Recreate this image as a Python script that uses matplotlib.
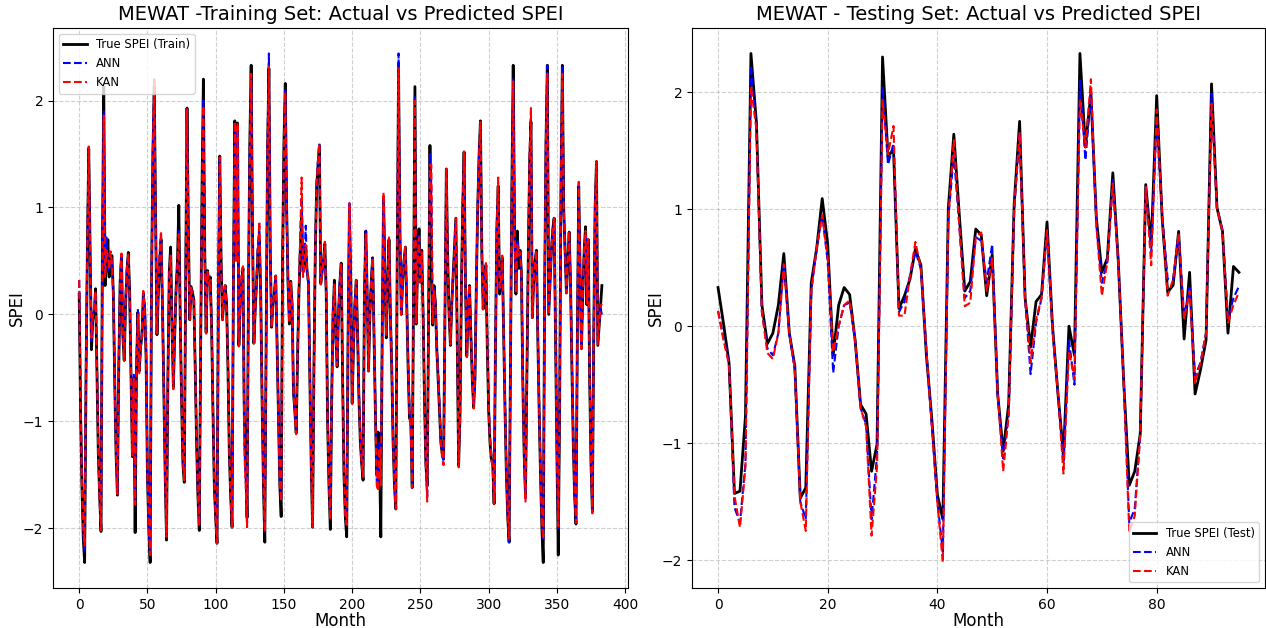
import matplotlib
matplotlib.use("Agg")
import matplotlib.pyplot as plt
import numpy as np

# ---- Training period (monthly SPEI, 384 months) ----
true_train = [
    0.19, -0.90, -1.60, -2.10, -2.32, -0.60, 0.60, 1.55, 0.60, -0.33, -0.05, 0.00, 0.24, -0.50, -1.30, -1.70,
    -2.03, 0.60, 2.13, 0.27, 0.45, 0.70, 0.35, 0.50, 0.55, 0.20, -0.60, -1.30, -1.69, -0.50, 0.30, 0.55,
    -0.20, -0.43, 0.10, 0.40, 0.58, 0.20, -0.60, -1.33, -0.60, -2.04, -0.50, 0.02, -0.53, -0.30, -0.20, 0.19,
    0.05, -0.40, -1.50, -2.00, -2.32, 0.30, 1.50, 2.13, 0.90, -0.19, 0.20, 0.50, 0.70, 0.10, -0.70, -1.50,
    -2.11, -0.60, 0.40, 0.63, -0.10, -0.68, -0.20, 0.24, 0.50, 1.02, 0.00, -0.80, -1.40, -1.57, 0.30, 1.93,
    0.80, -0.05, 0.26, 0.20, 0.14, -0.50, -1.20, -1.70, -2.02, -0.30, 1.20, 2.20, 0.60, -0.17, 0.41, 0.30,
    0.35, -0.10, -0.90, -1.60, -1.90, -2.14, 0.20, 1.48, 0.50, -0.05, 0.15, 0.27, 0.10, -0.50, -1.30, -1.70,
    -1.99, 0.30, 1.81, 0.53, 1.79, -0.29, 0.10, 0.30, 0.43, -0.97, -1.20, -1.90, 0.20, 1.60, 2.33, 0.80,
    -0.27, 0.05, 0.30, 0.60, 0.70, 0.20, -0.80, -1.60, -2.13, -0.20, 1.50, 2.30, 0.60, -0.12, 0.10, 0.19,
    0.36, -0.30, -1.00, -1.60, -1.89, 0.50, 1.60, 2.16, 1.00, 0.30, -0.09, 0.31, 0.10, -0.73, -0.90, -1.11,
    -0.40, 0.20, 0.60, 0.90, 0.40, 0.46, 0.60, 0.40, 0.30, -0.60, -1.40, -1.99, -0.50, 0.60, 1.20, 1.40,
    1.58, 0.29, 0.40, 0.50, 0.66, 0.20, -1.00, -1.60, -2.01, -0.80, 0.00, 0.32, -0.20, -0.49, 0.00, 0.30,
    0.48, -0.60, -1.50, -1.90, -2.08, -0.20, 1.00, 0.30, -0.83, -0.30, 0.10, 0.32, -0.20, -0.80, -1.20, -1.40,
    -1.55, 0.20, 0.78, 0.20, -0.53, 0.00, 0.30, 0.53, -0.20, -0.90, -1.50, -1.10, -1.30, -2.08, -0.20, 1.10,
    0.40, -0.22, 0.30, 0.70, 0.00, -0.50, -1.20, -1.60, -1.82, 0.50, 2.30, 0.80, 0.00, 0.30, 0.50, 0.63,
    0.10, -0.50, -0.97, -1.00, -1.62, 0.20, 2.13, -0.09, 0.50, 0.80, 0.30, 0.60, 0.00, -0.80, -1.40, -1.60,
    0.00, 1.58, 0.50, -0.10, 0.27, 0.10, -0.32, -0.60, -0.90, -1.20, -1.30, -1.35, 0.00, 1.36, 0.53, 0.00,
    -0.29, 0.10, 0.36, 0.60, 0.90, -0.30, -1.41, -0.96, 0.20, 1.00, 1.52, 0.30, -0.39, 0.00, 0.27, -0.20,
    -0.60, -0.87, -0.60, 0.30, 1.00, 1.50, 1.81, 0.60, 0.05, 0.30, 0.46, -0.30, -0.90, -1.20, -1.35, -1.40,
    -1.77, -0.30, 0.80, 1.20, 0.19, 0.30, 0.53, -0.20, -0.90, -1.50, -1.90, -2.13, -0.50, 1.20, 2.33, 0.80,
    0.19, 0.78, 0.43, 0.60, 0.40, -0.60, -1.30, -1.70, -0.60, 0.50, 1.40, 1.80, -0.03, 0.30, 0.50, 0.60,
    -0.20, -0.90, -1.50, -2.00, -2.32, 0.20, 1.60, 2.33, 0.00, 0.30, 0.60, 0.80, 0.90, -0.20, -1.30, -2.25,
    -0.90, 1.20, 2.33, 1.00, 0.60, 0.20, 0.50, 0.77, 0.30, -0.50, -1.20, -1.70, -1.96, -0.20, 1.20, 0.40,
    -0.32, 0.20, 0.60, 0.82, 0.09, 0.70, -0.60, -1.40, -1.84, -0.20, 1.00, 1.43, -0.29, -0.10, 0.10, 0.27,
]

ann_train = [
    0.32, -0.80, -1.55, -2.05, -2.20, -0.55, 0.65, 1.57, 0.55, -0.25, 0.00, 0.05, 0.20, -0.45, -1.25, -1.72,
    -2.00, 0.55, 1.90, 0.40, 0.72, 0.50, 0.40, 0.52, 0.50, 0.22, -0.55, -1.25, -1.65, -0.45, 0.35, 0.55,
    -0.15, -0.40, 0.15, 0.45, 0.55, 0.15, -0.55, -1.30, -0.55, -1.75, -0.45, 0.05, -0.50, -0.35, -0.15, 0.20,
    0.10, -0.35, -1.45, -2.00, -2.25, 0.35, 1.55, 2.20, 0.85, -0.15, 0.25, 0.55, 0.72, 0.05, -0.65, -1.45,
    -2.05, -0.55, 0.35, 0.55, -0.15, -0.65, -0.15, 0.25, 0.45, 0.80, 0.05, -0.75, -1.35, -1.55, 0.35, 1.92,
    0.75, -0.02, 0.22, 0.22, 0.10, -0.45, -1.15, -1.65, -1.97, -0.25, 1.15, 2.00, 0.55, -0.15, 0.38, 0.32,
    0.30, -0.08, -0.85, -1.55, -1.90, -2.10, 0.25, 1.45, 0.45, -0.02, 0.12, 0.25, 0.08, -0.45, -1.25, -1.68,
    -1.97, 0.35, 1.78, 0.55, 1.75, -0.25, 0.12, 0.35, 0.40, -1.20, -1.55, -1.95, 0.25, 1.55, 2.20, 0.75,
    -0.25, 0.08, 0.35, 0.65, 0.82, 0.15, -0.75, -1.55, -2.03, -0.15, 1.60, 2.44, 0.55, -0.10, 0.12, 0.22,
    0.33, -0.25, -0.95, -1.55, -1.72, 0.45, 1.55, 2.10, 0.95, 0.28, -0.05, 0.28, 0.12, -0.70, -0.90, -1.10,
    -0.35, 0.25, 0.70, 1.10, 0.38, 0.50, 0.83, 0.38, 0.28, -0.55, -1.35, -1.97, -0.45, 0.62, 1.25, 1.45,
    1.60, 0.30, 0.42, 0.52, 0.65, 0.15, -0.95, -1.55, -1.90, -0.75, 0.05, 0.25, -0.25, -0.45, 0.05, 0.32,
    0.45, -0.55, -1.45, -1.85, -1.95, -0.15, 1.04, 0.28, -0.80, -0.25, 0.12, 0.30, -0.18, -0.75, -1.15, -1.38,
    -1.50, 0.25, 0.78, 0.22, -0.50, 0.05, 0.32, 0.55, -0.15, -0.85, -1.55, -1.60, -1.20, -1.55, -0.15, 1.10,
    0.42, -0.18, 0.32, 0.68, 0.05, -0.45, -1.15, -1.55, -1.80, 0.55, 2.44, 0.75, 0.02, 0.32, 0.52, 0.60,
    0.12, -0.45, -0.90, -1.05, -1.58, 0.25, 2.05, -0.05, 0.50, 0.75, 0.32, 0.55, 0.02, -0.75, -1.38, -1.70,
    0.05, 1.50, 1.20, -0.05, 0.25, 0.12, -0.30, -0.55, -0.85, -1.18, -1.32, -1.38, 0.05, 1.35, 0.50, 0.02,
    -0.25, 0.12, 0.38, 0.62, 0.88, -0.25, -1.38, -0.95, 0.25, 1.02, 1.50, 0.32, -0.35, 0.02, 0.25, -0.18,
    -0.55, -0.85, -0.55, 0.32, 1.02, 1.48, 1.78, 0.55, 0.08, 0.32, 0.45, -0.25, -0.85, -1.15, -1.32, -1.42,
    -1.75, -0.25, 0.85, 1.15, 0.22, 0.32, 0.50, -0.15, -0.85, -1.45, -1.88, -2.13, -0.45, 1.15, 2.20, 0.75,
    0.22, 0.70, 0.60, 0.55, 0.38, -0.55, -1.25, -1.72, -0.55, 0.55, 1.45, 1.85, 0.00, 0.32, 0.52, 0.58,
    -0.15, -0.85, -1.45, -1.95, -2.10, 0.25, 1.65, 2.33, 0.02, 0.32, 0.62, 0.78, 0.88, -0.15, -1.25, -2.00,
    -0.85, 1.25, 2.33, 0.95, 0.55, 0.22, 0.52, 0.75, 0.28, -0.45, -1.15, -1.65, -1.95, -0.15, 1.20, 0.38,
    -0.30, 0.22, 0.58, 0.75, 0.12, 0.68, -0.55, -1.35, -1.84, -0.15, 1.00, 1.40, -0.25, -0.10, 0.05, 0.00,
]

kan_train = [
    0.32, -0.85, -1.58, -2.00, -2.16, -0.50, 0.62, 1.57, 0.58, -0.22, -0.02, 0.08, 0.22, -0.48, -1.28, -1.75,
    -2.02, 0.50, 1.86, 0.35, 0.60, 0.55, 0.42, 0.59, 0.48, 0.18, -0.58, -1.28, -1.68, -0.48, 0.32, 0.57,
    -0.18, -0.43, 0.12, 0.42, 0.57, 0.18, -0.58, -1.32, -0.60, -1.78, -0.48, 0.00, -0.55, -0.30, -0.20, 0.22,
    0.05, -0.38, -1.48, -1.98, -2.25, 0.32, 1.52, 2.20, 0.88, -0.18, 0.22, 0.60, 0.78, 0.08, -0.68, -1.48,
    -2.08, -0.58, 0.38, 0.55, -0.12, -0.70, -0.18, 0.22, 0.48, 0.75, 0.02, -0.78, -1.38, -1.55, 0.32, 1.92,
    0.78, -0.05, 0.25, 0.18, 0.12, -0.48, -1.18, -1.68, -1.98, -0.28, 1.10, 1.95, 0.58, -0.18, 0.40, 0.28,
    0.32, -0.12, -0.88, -1.58, -1.92, -2.14, 0.22, 1.47, 0.48, -0.05, 0.15, 0.27, 0.05, -0.48, -1.28, -1.70,
    -1.99, 0.32, 1.80, 0.50, 1.79, -0.30, 0.08, 0.40, 0.45, -1.25, -1.60, -1.99, 0.22, 1.50, 2.25, 0.78,
    -0.28, 0.05, 0.32, 0.62, 0.87, 0.18, -0.78, -1.58, -2.03, -0.18, 1.55, 2.32, 0.58, -0.12, 0.10, 0.20,
    0.36, -0.28, -0.98, -1.58, -1.75, 0.42, 1.52, 2.08, 0.98, 0.32, -0.08, 0.30, 0.10, -0.72, -0.92, -1.12,
    -0.38, 0.22, 0.75, 1.28, 0.35, 0.45, 0.65, 0.42, 0.30, -0.58, -1.38, -1.99, -0.48, 0.58, 1.22, 1.42,
    1.60, 0.28, 0.38, 0.50, 0.68, 0.18, -0.98, -1.58, -1.92, -0.78, 0.02, 0.28, -0.22, -0.48, 0.02, 0.30,
    0.48, -0.58, -1.48, -1.88, -1.97, -0.18, 1.04, 0.25, -0.85, -0.28, 0.10, 0.32, -0.20, -0.78, -1.18, -1.40,
    -1.52, 0.22, 0.75, 0.18, -0.53, 0.02, 0.30, 0.53, -0.18, -0.88, -1.60, -1.65, -1.25, -1.60, -0.18, 1.14,
    0.40, -0.20, 0.30, 0.72, 0.02, -0.48, -1.18, -1.58, -1.82, 0.50, 2.30, 0.78, 0.00, 0.30, 0.50, 0.63,
    0.10, -0.48, -0.95, -1.08, -1.62, 0.22, 2.00, -0.08, 0.52, 0.72, 0.30, 0.58, 0.00, -0.78, -1.40, -1.75,
    0.02, 1.40, 1.40, -0.08, 0.22, 0.10, -0.35, -0.58, -0.88, -1.20, -1.35, -1.41, 0.02, 1.36, 0.52, 0.00,
    -0.28, 0.10, 0.35, 0.60, 0.90, -0.28, -1.43, -0.98, 0.22, 1.00, 1.52, 0.30, -0.40, 0.00, 0.28, -0.20,
    -0.58, -0.88, -0.58, 0.30, 1.00, 1.50, 1.80, 0.58, 0.05, 0.30, 0.48, -0.28, -0.88, -1.18, -1.35, -1.45,
    -1.77, -0.28, 0.82, 1.28, 0.25, 0.30, 0.55, -0.18, -0.88, -1.48, -1.90, -2.10, -0.48, 1.12, 2.18, 0.78,
    0.20, 0.65, 0.55, 0.58, 0.40, -0.58, -1.28, -1.75, -0.58, 0.52, 1.50, 1.93, -0.03, 0.30, 0.48, 0.60,
    -0.18, -0.88, -1.48, -1.95, -2.10, 0.22, 1.62, 2.25, 0.00, 0.30, 0.60, 0.80, 0.90, -0.18, -1.28, -1.98,
    -0.88, 1.22, 2.25, 0.98, 0.58, 0.20, 0.50, 0.78, 0.30, -0.48, -1.18, -1.68, -1.95, -0.18, 1.24, 0.40,
    -0.32, 0.20, 0.60, 0.78, 0.10, 0.70, -0.58, -1.38, -1.86, -0.18, 1.00, 1.43, -0.28, -0.08, 0.08, 0.10,
]

# ---- Testing period (monthly SPEI, 96 months) ----
true_test = [
    0.33, 0.02, -0.31, -1.43, -1.41, -0.77, 2.33, 1.74, 0.18, -0.15, -0.06, 0.18, 0.62, -0.06, -0.34, -1.47,
    -1.38, 0.37, 0.67, 1.09, 0.70, -0.25, 0.18, 0.33, 0.27, -0.12, -0.67, -0.75, -1.24, -1.01, 2.30, 1.45,
    1.51, 0.15, 0.26, 0.40, 0.66, 0.52, -0.25, -0.80, -1.44, -1.65, 1.01, 1.64, 0.95, 0.30, 0.38, 0.83,
    0.78, 0.26, 0.61, -0.58, -1.07, -0.67, 1.04, 1.75, 0.24, -0.18, 0.21, 0.27, 0.89, 0.00, -0.58, -1.10,
    0.00, -0.25, 2.33, 1.53, 1.99, 0.92, 0.46, 0.58, 1.31, 0.55, -0.49, -1.36, -1.24, -0.92, 1.21, 0.69,
    1.97, 0.92, 0.29, 0.35, 0.81, -0.11, 0.46, -0.58, -0.37, -0.12, 2.07, 1.01, 0.81, -0.06, 0.51, 0.46,
]

ann_test = [
    0.13, -0.10, -0.31, -1.55, -1.68, -1.17, 2.23, 1.70, 0.12, -0.19, -0.25, -0.06, 0.53, -0.06, -0.37, -1.50,
    -1.65, 0.30, 0.67, 0.95, 0.55, -0.40, 0.00, 0.18, 0.20, -0.12, -0.70, -0.84, -1.65, -1.10, 2.05, 1.38,
    1.56, 0.12, 0.21, 0.43, 0.64, 0.49, -0.21, -0.86, -1.50, -1.93, 0.92, 1.47, 0.86, 0.24, 0.30, 0.76,
    0.73, 0.38, 0.70, -0.58, -1.13, -0.76, 1.00, 1.65, 0.24, -0.41, 0.03, 0.24, 0.82, -0.03, -0.58, -1.17,
    -0.12, -0.50, 2.10, 1.42, 1.99, 0.86, 0.37, 0.55, 1.25, 0.55, -0.49, -1.68, -1.56, -0.92, 1.19, 0.64,
    1.77, 0.95, 0.40, 0.40, 0.79, 0.09, 0.33, -0.43, -0.31, -0.06, 1.99, 1.01, 0.81, 0.06, 0.24, 0.34,
]

kan_test = [
    0.13, -0.12, -0.33, -1.45, -1.72, -1.20, 2.05, 1.68, 0.12, -0.23, -0.28, -0.06, 0.53, -0.06, -0.37, -1.50,
    -1.75, 0.30, 0.67, 0.95, 0.58, -0.22, 0.00, 0.18, 0.22, -0.12, -0.70, -0.86, -1.79, -1.20, 1.93, 1.47,
    1.71, 0.09, 0.09, 0.43, 0.72, 0.49, -0.21, -0.86, -1.50, -2.02, 0.92, 1.59, 0.86, 0.17, 0.20, 0.76,
    0.80, 0.30, 0.58, -0.58, -1.24, -0.76, 1.00, 1.65, 0.24, -0.31, 0.06, 0.24, 0.82, -0.03, -0.58, -1.26,
    -0.21, -0.45, 1.94, 1.53, 2.11, 0.86, 0.26, 0.55, 1.22, 0.55, -0.49, -1.76, -1.62, -0.92, 1.19, 0.52,
    1.85, 0.95, 0.26, 0.40, 0.79, 0.06, 0.30, -0.49, -0.31, -0.06, 1.90, 1.01, 0.81, 0.03, 0.18, 0.29,
]

region = "MEWAT"

fig = plt.figure(figsize=(12.66, 6.28), dpi=100)
ax1 = fig.add_axes([0.0419, 0.0637, 0.4542, 0.8917])
ax2 = fig.add_axes([0.5466, 0.0637, 0.4526, 0.8917])


def draw_panel(ax, truth, ann, kan, true_label, title, legend_loc):
    months = np.arange(len(truth))
    ax.plot(months, truth, color="black", linewidth=2, label=true_label)
    ax.plot(months, ann, color="blue", linestyle="--", linewidth=1.5, label="ANN")
    ax.plot(months, kan, color="red", linestyle="--", linewidth=1.5, label="KAN")
    ax.set_title(title, fontsize=14)
    ax.set_xlabel("Month", fontsize=12, labelpad=0)
    ax.set_ylabel("SPEI", fontsize=12, labelpad=-2)
    ax.grid(True, linestyle="--", alpha=0.6)
    ax.legend(loc=legend_loc, fontsize="small")


draw_panel(ax1, true_train, ann_train, kan_train, "True SPEI (Train)",
           f"{region} -Training Set: Actual vs Predicted SPEI", "upper left")
draw_panel(ax2, true_test, ann_test, kan_test, "True SPEI (Test)",
           f"{region} - Testing Set: Actual vs Predicted SPEI", "lower right")

fig.savefig("out.png", dpi=100)
